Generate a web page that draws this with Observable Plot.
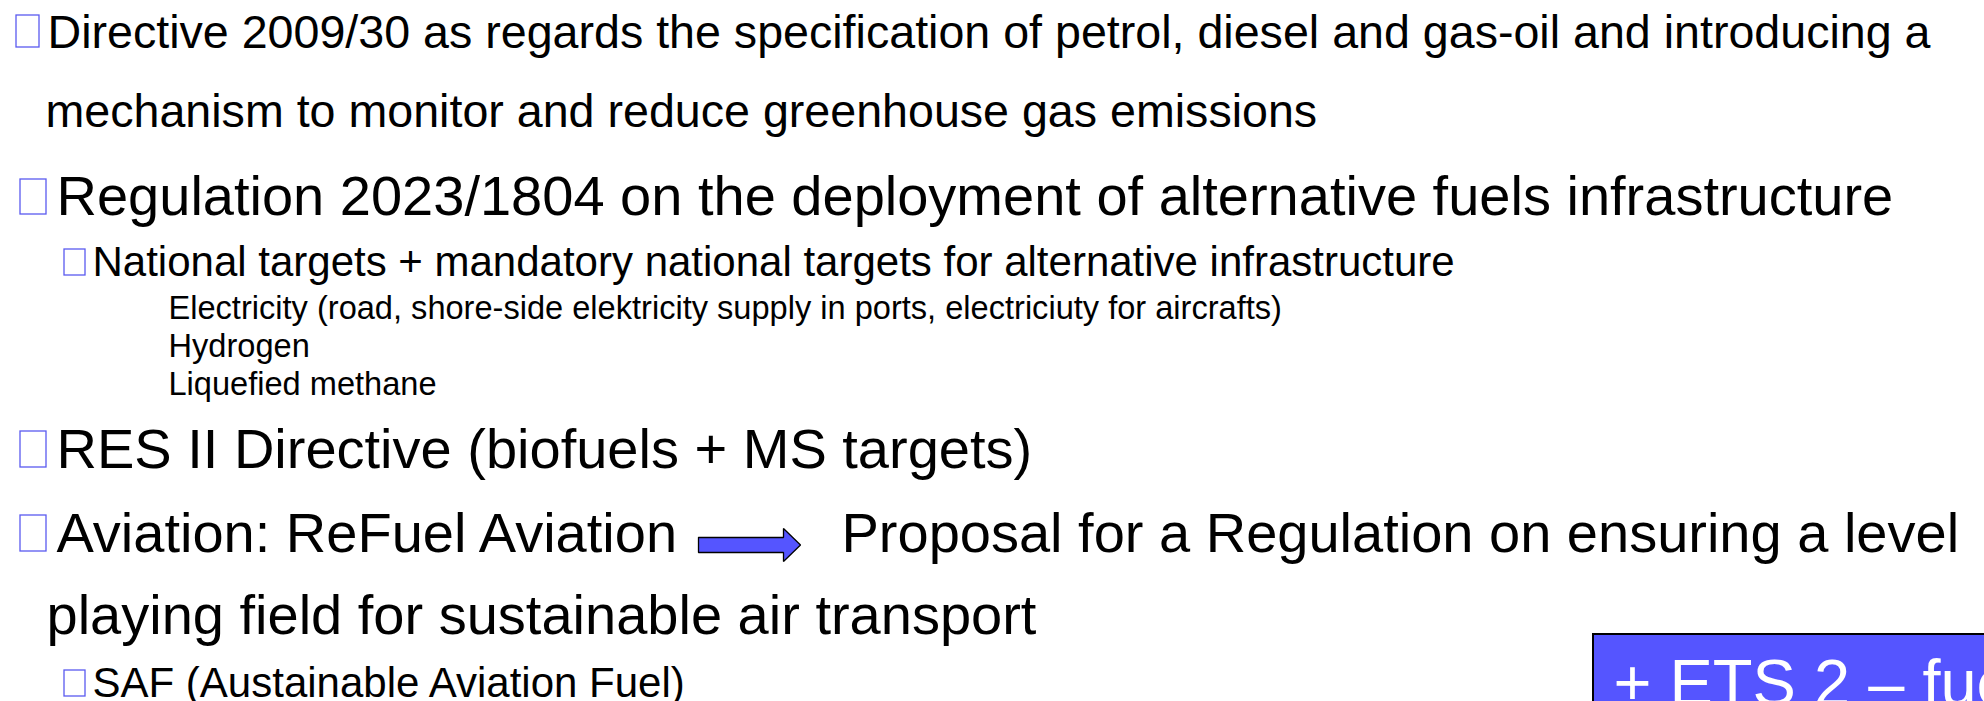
<!DOCTYPE html>
<html>
<head>
<meta charset="utf-8">
<script src="https://cdn.jsdelivr.net/npm/d3@7"></script>
<script src="https://cdn.jsdelivr.net/npm/@observablehq/plot@0.6"></script>
<style>
  html, body { margin: 0; padding: 0; background: #fff; overflow: hidden; }
  svg { display: block; overflow: hidden; }
</style>
</head>
<body>
<div id="chart"></div>
<script>
// ---- content (text of the slide) ----
const mainLines = [
  "Directive 2009/30 as regards the specification of petrol, diesel and gas-oil and introducing a",
  "mechanism to monitor and reduce greenhouse gas emissions"
];
const headingLines = [
  "Regulation 2023/1804 on the deployment of alternative fuels infrastructure",
  "RES II Directive (biofuels + MS targets)",
  "Aviation: ReFuel Aviation",
  "Proposal for a Regulation on ensuring a level",
  "playing field for sustainable air transport"
];
const subLines = [
  "National targets + mandatory national targets for alternative infrastructure",
  "SAF (Austainable Aviation Fuel)"
];
const detailLines = [
  "Electricity (road, shore-side elektricity supply in ports, electriciuty for aircrafts)",
  "Hydrogen",
  "Liquefied methane"
];
const boxLabels = ["+ ETS 2 – fuels"];

// ---- layout (pixel positions of the slide) ----
const mainPos    = [[47, 47], [45, 126]];
const headingPos = [[56, 214], [56, 467], [56, 551], [841, 551], [46, 633]];
const subPos     = [[92, 275], [92, 696]];
const detailPos  = [[168, 318], [168, 356], [168, 394]];
const bulletBoxes = [
  [16, 15, 39, 47], [20, 179, 46, 214], [64, 249, 85, 275],
  [20, 431, 46, 467], [20, 515, 46, 551], [64, 670, 85, 696]
];
const arrowShape = [
  [698, 537], [783, 537], [783, 528], [800, 544.5], [783, 561], [783, 552], [698, 552], [698, 537]
];
const boxRect = [[1593, 634, 2100, 760]];
const boxTextPos = [[1613, 704]];

const join = (texts, pos) => texts.map((t, i) => ({text: t, x: pos[i][0], y: pos[i][1]}));

const font = "Liberation Sans, Arial, Helvetica, sans-serif";

const chart = Plot.plot({
  width: 1984,
  height: 701,
  margin: 0,
  x: {domain: [0, 1984], range: [0, 1984], axis: null},
  y: {domain: [0, 701], range: [0, 701], axis: null},
  style: {background: "#ffffff", fontFamily: font, overflow: "hidden"},
  marks: [
    Plot.rect(bulletBoxes, {x1: d => d[0], y1: d => d[1], x2: d => d[2], y2: d => d[3],
      fill: "none", stroke: "#5a5af0", strokeWidth: 1.3}),
    Plot.text(join(mainLines, mainPos), {x: "x", y: "y", text: "text", fontSize: 46.6,
      textAnchor: "start", lineAnchor: "bottom", fill: "#000"}),
    Plot.text(join(headingLines, headingPos), {x: "x", y: "y", text: "text", fontSize: 56,
      textAnchor: "start", lineAnchor: "bottom", fill: "#000"}),
    Plot.text(join(subLines, subPos), {x: "x", y: "y", text: "text", fontSize: 42,
      textAnchor: "start", lineAnchor: "bottom", fill: "#000"}),
    Plot.text(join(detailLines, detailPos), {x: "x", y: "y", text: "text", fontSize: 32.6,
      textAnchor: "start", lineAnchor: "bottom", fill: "#000"}),
    Plot.line(arrowShape, {x: d => d[0], y: d => d[1], fill: "#5555ff", stroke: "#000",
      strokeWidth: 1.3, curve: "linear", strokeLinejoin: "miter"}),
    Plot.rect(boxRect, {x1: d => d[0], y1: d => d[1], x2: d => d[2], y2: d => d[3],
      fill: "#5555ff", stroke: "#000", strokeWidth: 2}),
    Plot.text(join(boxLabels, boxTextPos), {x: "x", y: "y", text: "text", fontSize: 65,
      textAnchor: "start", lineAnchor: "bottom", fill: "#fff"})
  ]
});
document.getElementById("chart").appendChild(chart);
</script>
</body>
</html>
